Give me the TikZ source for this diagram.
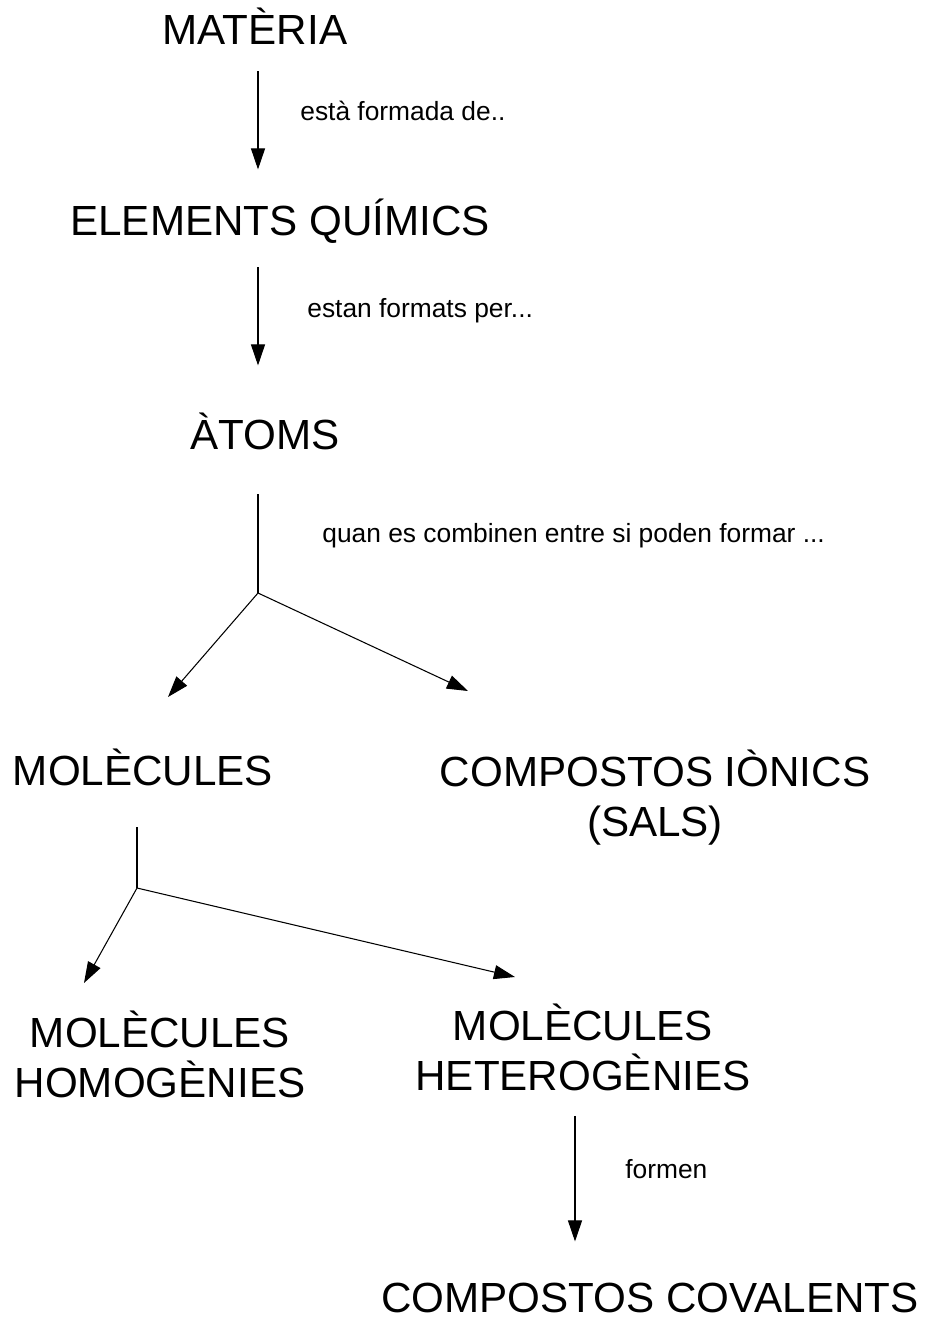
\documentclass[tikz,border=0pt]{standalone}
\usepackage{fontspec}
\setmainfont{Liberation Sans}
\usetikzlibrary{arrows.meta, calc}

\begin{document}
\begin{tikzpicture}[x=0.02cm, y=-0.02cm,
        concept/.style={inner sep=0pt, anchor=base, align=center, font=\fontsize{24}{28}\selectfont},
        single/.style={concept, text height=17.2pt, text depth=0pt},
        lbl/.style={inner sep=0pt, anchor=base west, font=\fontsize{15}{18}\selectfont},
        stem/.style={draw=black, line width=0.6pt},
        arrow/.style={stem, -{Triangle[length=12pt, width=8pt]}}]

        \useasboundingbox (0,0) rectangle (924,1318);

        % concepts (base = last line)
        \node [single] (mat) at (255,45) {MATÈRIA};
        \node [single] (elem) at (280,235) {ELEMENTS QUÍMICS};
        \node [single] (atoms) at (265,449) {ÀTOMS};
        \node [single] (mol) at (143,785) {MOLÈCULES};
        \node [concept] (ion) at (655,836) {COMPOSTOS IÒNICS\\(SALS)};
        \node [concept] (hom) at (160,1097) {MOLÈCULES\\HOMOGÈNIES};
        \node [concept] (het) at (583,1090) {MOLÈCULES\\HETEROGÈNIES};
        \node [single] (cov) at (650,1312) {COMPOSTOS COVALENTS};

        % branch points and arrow ends
        \coordinate (axis) at (258,0);
        \coordinate (b1) at (258,593);
        \coordinate (b2) at (137,888);
        \coordinate (mol-in) at (168,697);
        \coordinate (ion-in) at (468,691);
        \coordinate (hom-in) at (84,983);
        \coordinate (het-in) at (515,977);

        % connectors
        \path [arrow, shorten <=0.52cm, shorten >=0.7cm] (mat.south -| axis) -- (elem.north -| axis);
        \path [arrow, shorten <=0.64cm, shorten >=1.06cm] (elem.south -| axis) -- (atoms.north -| axis);
        \path [stem, shorten <=0.9cm] (atoms.south -| b1) -- (b1);
        \path [arrow] (b1) -- (mol-in);
        \path [arrow] (b1) -- (ion-in);
        \path [stem, shorten <=0.84cm] (mol.south -| b2) -- (b2);
        \path [arrow] (b2) -- (hom-in);
        \path [arrow] (b2) -- (het-in);
        \path [arrow, shorten <=0.5cm, shorten >=0.8cm] ([xshift=-0.16cm]het.south) -- ([xshift=-0.16cm]het.south |- cov.north);

        % labels
        \node [lbl] (l1) at (300,120) {està formada de..};
        \node [lbl] (l2) at (307,317) {estan formats per...};
        \node [lbl] (l3) at (322,542) {quan es combinen entre si poden formar ...};
        \node [lbl] (l4) at (625,1178) {formen};
    \end{tikzpicture}
\end{document}
